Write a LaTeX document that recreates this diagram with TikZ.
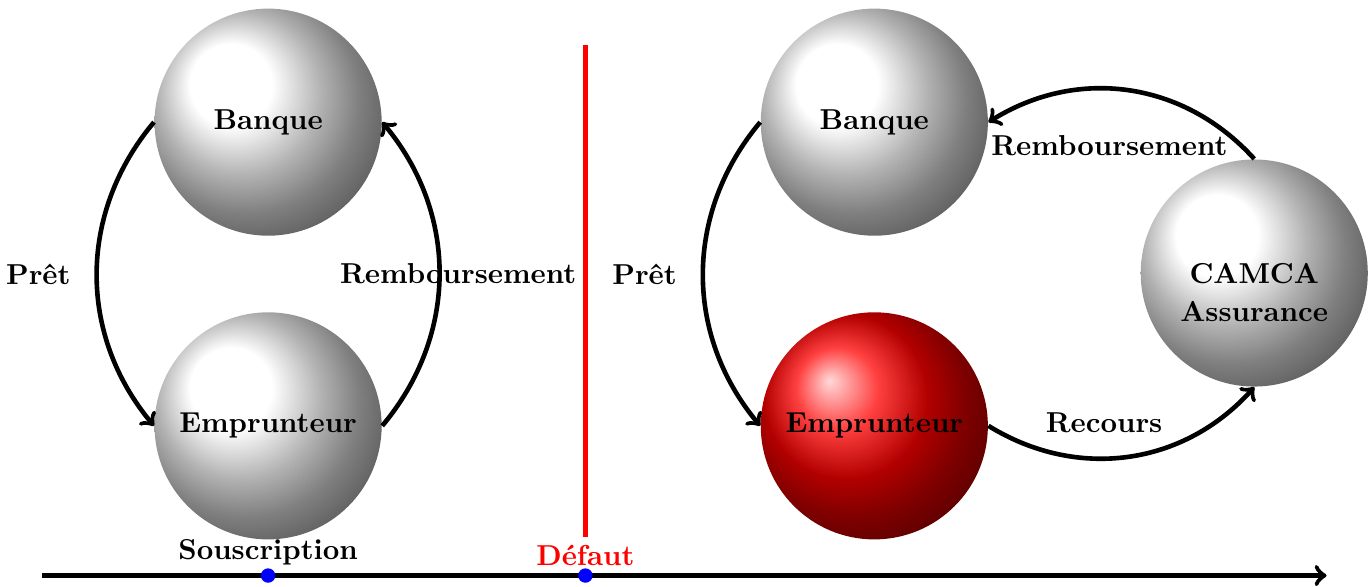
\documentclass[tikz,border=0pt]{standalone}
\usepackage{fontspec}
\usetikzlibrary{positioning}

\begin{document}
\begin{tikzpicture}[font=\bfseries,
	ball/.style={circle, shading=ball, ball color=white, minimum size=2.77cm, inner sep=0pt, align=center},
	flux/.style={->, line width=1.6pt, bend right=40},
	dot/.style={circle, fill=blue, inner sep=0pt, minimum size=5pt}]
	\useasboundingbox (0,0) rectangle (16.71,7.15);
	% avant le defaut
	\node[ball] (bq1) at (3.27,5.66) {Banque};
	\node[ball, below=0.92cm of bq1] (emp1) {Emprunteur};
	\draw[flux] (bq1.west) to node[left=5pt] (pret1) {Prêt} (emp1.west);
	\draw[flux] (emp1.east) to node[xshift=0.23cm] (remb1) {Remboursement} (bq1.east);
	% apres le defaut
	\node[ball, right=4.61cm of bq1] (bq2) {Banque};
	\node[ball, ball color=red, below=0.92cm of bq2] (emp2) {Emprunteur};
	\node[ball, right=1.85cm of bq2, yshift=-1.84cm,
		label={[align=center, yshift=-0.24cm]center:CAMCA\\[1pt]Assurance}] (camca) {};
	\draw[flux] (bq2.west) to node[left=5pt] (pret2) {Prêt} (emp2.west);
	\draw[flux] (camca.north) to node[below=11.5pt, xshift=-0.23cm] (remb2) {Remboursement} (bq2.east);
	\draw[flux] (emp2.east) to node[above=4pt, xshift=-0.3cm] (rec) {Recours} (camca.south);
	% axe du temps
	\coordinate (t0) at (0.51,0.13);
	\coordinate (t1) at (16.18,0.13);
	\draw[->, line width=1.6pt] (t0) -- (t1);
	\node[dot] (sous) at (emp1 |- t0) {};
	\node[dot] (def) at ([xshift=3.87cm]sous) {};
	\node[above] (lsous) at (sous) {Souscription};
	\node[above, red] (ldef) at (def) {Défaut};
	\draw[red, line width=1.6pt] ([yshift=0.47cm]def.center) -- ++(0,6);
\end{tikzpicture}
\end{document}
